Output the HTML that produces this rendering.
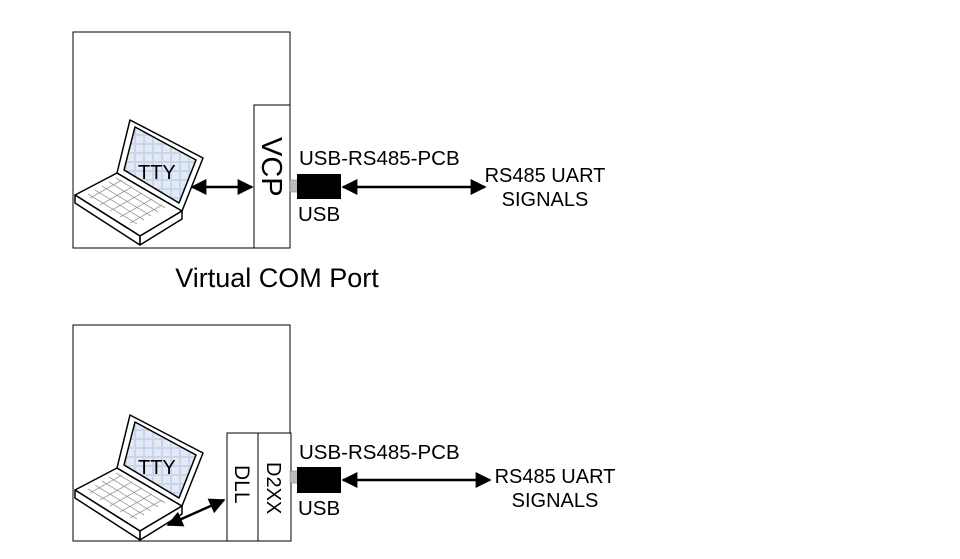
<!DOCTYPE html>
<html><head><style>html,body{margin:0;padding:0;background:#fff}svg{display:block}</style></head><body>
<svg width="960" height="559" viewBox="0 0 960 559" xmlns="http://www.w3.org/2000/svg" font-family="Liberation Sans, sans-serif">
<defs>
<marker id="b" viewBox="0 0 10 10" refX="9" refY="5" markerWidth="24" markerHeight="16" orient="auto-start-reverse" markerUnits="userSpaceOnUse"><path d="M0,0L10,5L0,10z" fill="#000"/></marker>
<pattern id="g" width="9" height="9" patternUnits="userSpaceOnUse"><rect width="9" height="9" fill="#c9d6ea"/><rect x="1" y="1" width="7" height="7" fill="#e3eaf5"/></pattern>
<g id="lap" stroke="#000" stroke-width="1.5" stroke-linejoin="round">
<path d="M75,195 L117,173 L182,211 L140,236 Z" fill="#fff"/>
<path d="M75,195 L75,203 L140,245 L140,236 Z" fill="#fff"/>
<path d="M140,236 L140,245 L182,219 L182,211 Z" fill="#fff"/>
<g stroke="#999" stroke-width="0.8" fill="none">
<path d="M88,194 L137,224 M95,190 L144,220 M102,186 L151,216 M109,182 L158,212 M116,178 L165,208"/>
<path d="M90,198 L122,180 M100,205 L132,187 M110,211 L142,193 M120,217 L152,199 M130,223 L162,205"/>
</g>
<path d="M117,173 L130,120 L203,158 L182,211 Z" fill="#fff"/>
<path d="M124,170 L135,127 L196,160 L179,203 Z" fill="url(#g)"/>
</g>
</defs>
<!-- top -->
<rect x="73" y="32" width="217" height="216" fill="#fff" stroke="#000" stroke-width="1"/>
<rect x="254" y="105" width="36" height="143" fill="#fff" stroke="#000" stroke-width="1"/>
<use href="#lap"/>
<text x="138" y="179" font-size="20">TTY</text>
<text transform="translate(262,137) rotate(90)" font-size="29">VCP</text>
<line x1="192" y1="187" x2="252" y2="187" stroke="#000" stroke-width="2.5" marker-start="url(#b)" marker-end="url(#b)"/>
<rect x="290" y="180" width="8" height="12" fill="#bbb" stroke="#777" stroke-width="0.5"/>
<rect x="297" y="174" width="44" height="25" fill="#000"/>
<line x1="343" y1="187" x2="485" y2="187" stroke="#000" stroke-width="2.5" marker-start="url(#b)" marker-end="url(#b)"/>
<text x="299" y="165" font-size="20.5">USB-RS485-PCB</text>
<text x="298" y="221" font-size="20.5">USB</text>
<text x="545" y="182" font-size="20" text-anchor="middle">RS485 UART</text>
<text x="545" y="206" font-size="20" text-anchor="middle">SIGNALS</text>
<text x="277" y="287" font-size="27" text-anchor="middle">Virtual COM Port</text>
<!-- bottom -->
<rect x="73" y="325" width="217" height="216" fill="#fff" stroke="#000" stroke-width="1"/>
<rect x="227" y="433" width="31" height="108" fill="#fff" stroke="#000" stroke-width="1"/>
<rect x="258" y="433" width="33" height="108" fill="#fff" stroke="#000" stroke-width="1"/>
<use href="#lap" transform="translate(0,295)"/>
<text x="138" y="474" font-size="20">TTY</text>
<text transform="translate(235,465) rotate(90)" font-size="21">DLL</text>
<text transform="translate(267,462) rotate(90)" font-size="20">D2XX</text>
<line x1="168" y1="525" x2="224" y2="500" stroke="#000" stroke-width="2.5" marker-start="url(#b)" marker-end="url(#b)"/>
<rect x="290" y="471" width="8" height="12" fill="#bbb" stroke="#777" stroke-width="0.5"/>
<rect x="297" y="467" width="44" height="26" fill="#000"/>
<line x1="343" y1="480" x2="490" y2="480" stroke="#000" stroke-width="2.5" marker-start="url(#b)" marker-end="url(#b)"/>
<text x="299" y="459" font-size="20.5">USB-RS485-PCB</text>
<text x="298" y="515" font-size="20.5">USB</text>
<text x="555" y="483" font-size="20" text-anchor="middle">RS485 UART</text>
<text x="555" y="507" font-size="20" text-anchor="middle">SIGNALS</text>
</svg>
</body></html>
